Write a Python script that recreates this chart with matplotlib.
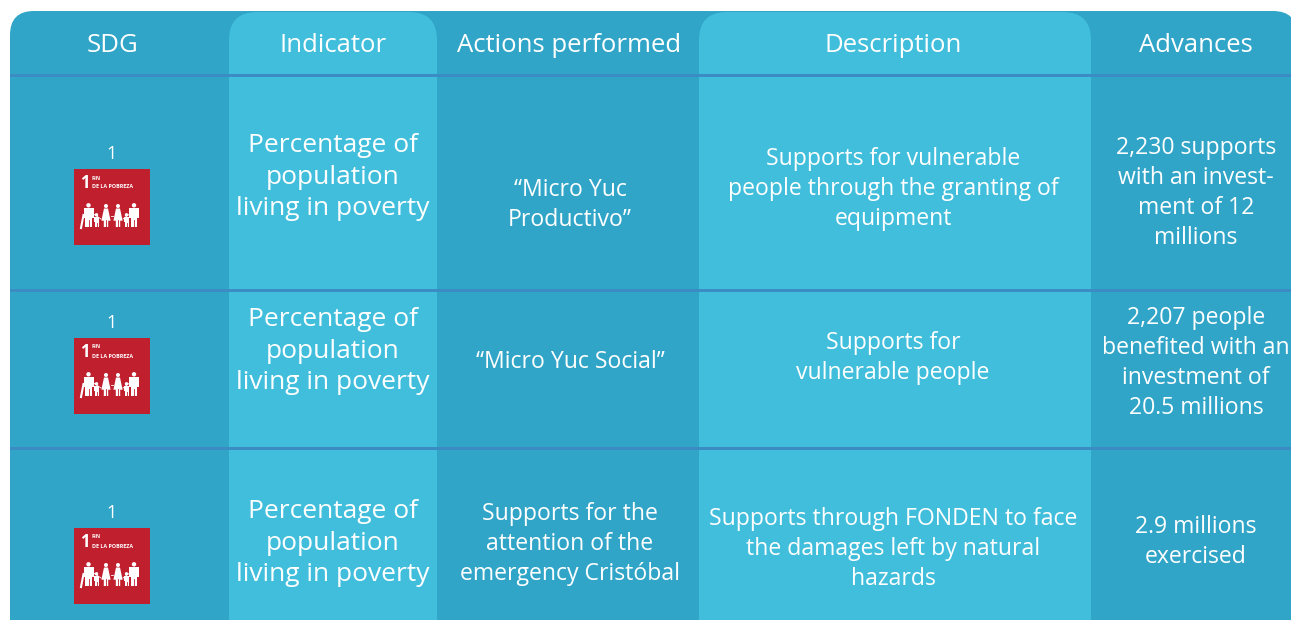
import matplotlib
matplotlib.use("Agg")
import matplotlib.pyplot as plt
from matplotlib.patches import Rectangle, FancyBboxPatch, Circle, Polygon

W, H = 1291, 620

headers = ["SDG", "Indicator", "Actions performed", "Description", "Advances"]
sdg_numbers = ["1", "1", "1"]
indicators = ["Percentage of\npopulation\nliving in poverty"] * 3
actions = ["“Micro Yuc\nProductivo”", "“Micro Yuc Social”",
           "Supports for the\nattention of the\nemergency Cristóbal"]
descriptions = ["Supports for vulnerable\npeople through the granting of\nequipment",
                "Supports for\nvulnerable people",
                "Supports through FONDEN to face\nthe damages left by natural\nhazards"]
advances = ["2,230 supports\nwith an invest-\nment of 12\nmillions",
            "2,207 people\nbenefited with an\ninvestment of\n20.5 millions",
            "2.9 millions\nexercised"]

DARK = "#30a5c8"
LIGHT = "#40bedb"
LINE = "#3a8cc3"
RED = "#c01f2e"

col_edges = [10, 229, 437, 699, 1091, 1291]
col_text_x = [113, 333, 570, 893, 1196]
row_lines = [75, 290, 448]
indicator_y = [177, 351, 543]
action_y = [205, 362, 544]
desc_y = [189, 358, 549]
adv_y = [193, 363, 542]
number_y = [154, 323, 513]
icon_y = [169, 338, 528]

plt.rcParams["font.family"] = ["Open Sans", "DejaVu Sans"]
fig = plt.figure(figsize=(W / 100, H / 100), dpi=100)
ax = fig.add_axes([0, 0, 1, 1])
ax.set_xlim(0, W)
ax.set_ylim(H, 0)
ax.axis("off")


def rounded(x0, y0, x1, y1, r, color, z):
    # rounded box, square bottom is made by running it past the lower edge
    p = FancyBboxPatch((x0 + r, y0 + r), x1 - x0 - 2 * r, y1 - y0 - 2 * r,
                       boxstyle="round,pad=%d,rounding_size=%d" % (r, r),
                       fc=color, ec="none", zorder=z)
    ax.add_patch(p)
    return p


back = rounded(10, 11, 1297, 680, 24, DARK, 1)
back.set_clip_path(Rectangle((10, 0), W - 10, H, transform=ax.transData))
for i in [1, 3]:
    p = rounded(col_edges[i], 12, col_edges[i + 1], 680, 28, LIGHT, 2)
    p.set_clip_path(Rectangle((0, 0), W, H, transform=ax.transData))

for y in row_lines:
    ax.add_patch(Rectangle((10, y - 1.5), W - 10, 3, fc=LINE, ec="none", zorder=3))


def family(x0, y0):
    # the people on the goal 1 icon, in icon pixels (76 wide): man, child, woman, woman, child, man
    people = [(14.5, 39, 58, "man"), (22.5, 48, 58, "child"), (32, 39.5, 58, "woman"),
              (44, 39.5, 58, "woman"), (52.5, 48, 58, "child"), (60, 39, 58, "man")]
    # joined hands between the figures
    ax.plot([x0 + 18, x0 + 27], [y0 + 44, y0 + 50], color="white", lw=0.6, zorder=6)
    ax.plot([x0 + 37, x0 + 39], [y0 + 47, y0 + 47], color="white", lw=0.6, zorder=6)
    ax.plot([x0 + 49, x0 + 57], [y0 + 50, y0 + 44], color="white", lw=0.6, zorder=6)
    for cx, top, bottom, kind in people:
        h = bottom - top
        if kind == "man":
            r, hw, leg = 2.2, 5, 3.2
        elif kind == "child":
            r, hw, leg = 1.7, 2.6, 2
        else:
            r, hw, leg = 2.0, 4.6, 2.2
        ax.add_patch(Circle((x0 + cx, y0 + top - r - 0.5), r, fc="white", ec="none", zorder=6))
        if kind == "woman":
            pts = [(cx - 2, top), (cx + 2, top), (cx + hw, top + h * .66), (cx + leg, top + h * .66),
                   (cx + leg, bottom), (cx - leg, bottom), (cx - leg, top + h * .66), (cx - hw, top + h * .66)]
        else:
            pts = [(cx - hw, top), (cx + hw, top), (cx + hw, top + h * .5), (cx + leg, top + h * .5),
                   (cx + leg, bottom), (cx - leg, bottom), (cx - leg, top + h * .5), (cx - hw, top + h * .5)]
        ax.add_patch(Polygon([(x0 + a, y0 + b) for a, b in pts], fc="white", ec="none", zorder=6))
        ax.plot([x0 + cx, x0 + cx], [y0 + top + h * .62, y0 + bottom], color=RED, lw=0.6, zorder=7)
    ax.plot([x0 + 9.5, x0 + 7], [y0 + 46, y0 + 59], color="white", lw=1.5, zorder=6)


for i, h in enumerate(headers):
    ax.text(col_text_x[i] if i != 2 else 569, 45, h, color="white", fontsize=18.5,
            ha="center", va="center", zorder=8)

for i in range(3):
    ax.text(112, number_y[i], sdg_numbers[i], color="white", fontsize=13, ha="center", va="center", zorder=8)
    ax.text(col_text_x[1], indicator_y[i], indicators[i], color="white", fontsize=19,
            ha="center", va="center", linespacing=1.35, zorder=8)
    ax.text(col_text_x[2], action_y[i], actions[i], color="white", fontsize=16.6,
            ha="center", va="center", linespacing=1.32, zorder=8)
    ax.text(col_text_x[3], desc_y[i], descriptions[i], color="white", fontsize=16.6,
            ha="center", va="center", linespacing=1.32, zorder=8)
    ax.text(col_text_x[4], adv_y[i], advances[i], color="white", fontsize=16.6,
            ha="center", va="center", linespacing=1.32, zorder=8)

    y0 = icon_y[i]
    ax.add_patch(Rectangle((74, y0), 76, 76, fc=RED, ec="none", zorder=5))
    ax.text(85, y0 + 14, "1", color="white", fontsize=12, fontweight="bold", ha="center", va="center", zorder=6)
    ax.text(92, y0 + 9, "FIN", color="white", fontsize=3.9, fontweight="bold", ha="left", va="center", zorder=6)
    ax.text(92, y0 + 18, "DE LA POBREZA", color="white", fontsize=3.9, fontweight="bold", ha="left", va="center", zorder=6)
    family(74, y0)

fig.savefig("out.png", dpi=100)
